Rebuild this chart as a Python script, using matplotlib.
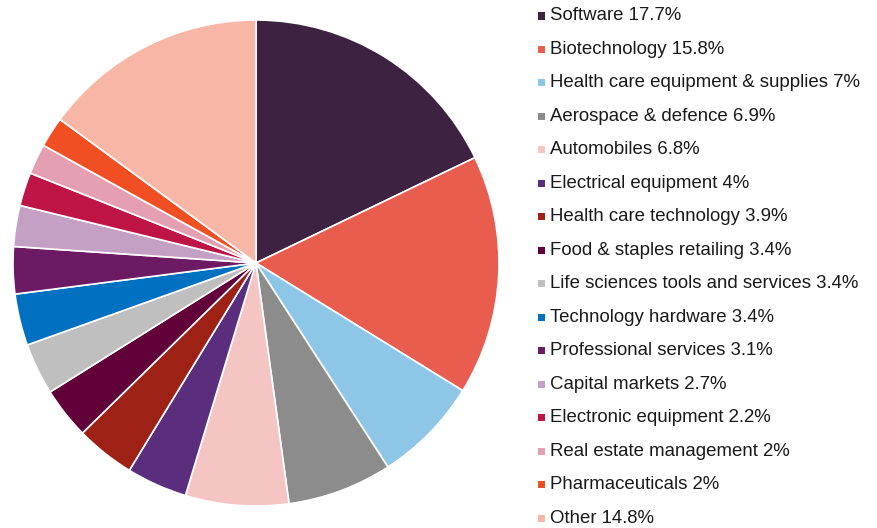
import matplotlib
matplotlib.use("Agg")
import matplotlib.pyplot as plt
from matplotlib.patches import Rectangle

plt.rcParams['font.family'] = ['Liberation Sans', 'DejaVu Sans']

categories = ["Software", "Biotechnology", "Health care equipment & supplies",
              "Aerospace & defence", "Automobiles", "Electrical equipment",
              "Health care technology", "Food & staples retailing",
              "Life sciences tools and services", "Technology hardware",
              "Professional services", "Capital markets", "Electronic equipment",
              "Real estate management", "Pharmaceuticals", "Other"]
values = [17.7, 15.8, 7, 6.9, 6.8, 4, 3.9, 3.4, 3.4, 3.4, 3.1, 2.7, 2.2, 2, 2, 14.8]
labels = ["Software 17.7%", "Biotechnology 15.8%", "Health care equipment & supplies 7%",
          "Aerospace & defence 6.9%", "Automobiles 6.8%", "Electrical equipment 4%",
          "Health care technology 3.9%", "Food & staples retailing 3.4%",
          "Life sciences tools and services 3.4%", "Technology hardware 3.4%",
          "Professional services 3.1%", "Capital markets 2.7%",
          "Electronic equipment 2.2%", "Real estate management 2%",
          "Pharmaceuticals 2%", "Other 14.8%"]
colors = ["#3D2241", "#E85D4E", "#8EC6E8", "#8C8C8C", "#F5C5C3", "#5B2D7D",
          "#9E2116", "#62003A", "#BFBFBF", "#0070C0", "#6B1A63", "#C4A1C4",
          "#BE1546", "#E49FB0", "#F04E23", "#F7B6A6"]

W, H = 877, 528
fig = plt.figure(figsize=(W / 100, H / 100), dpi=100)
cx, cy, r = 256, 263, 243
ax = fig.add_axes([(cx - r) / W, (H - cy - r) / H, 2 * r / W, 2 * r / H])
ax.pie(values, colors=colors, startangle=90, counterclock=False,
       wedgeprops=dict(edgecolor="white", linewidth=1.2))
ax.set_xlim(-1, 1)
ax.set_ylim(-1, 1)
ax.set_aspect("equal")
ax.axis("off")

y0, dy = 16, 33.47
for i, (lab, col) in enumerate(zip(labels, colors)):
    y = y0 + i * dy
    fig.patches.append(Rectangle((538 / W, (H - y - 3.5) / H), 7 / W, 7 / H,
                                 transform=fig.transFigure, facecolor=col,
                                 edgecolor="none"))
    fig.text(550 / W, (H - y) / H, lab, fontsize=13.4, color="#1a1a1a",
             va="center", ha="left")

fig.savefig("out.png", dpi=100)
